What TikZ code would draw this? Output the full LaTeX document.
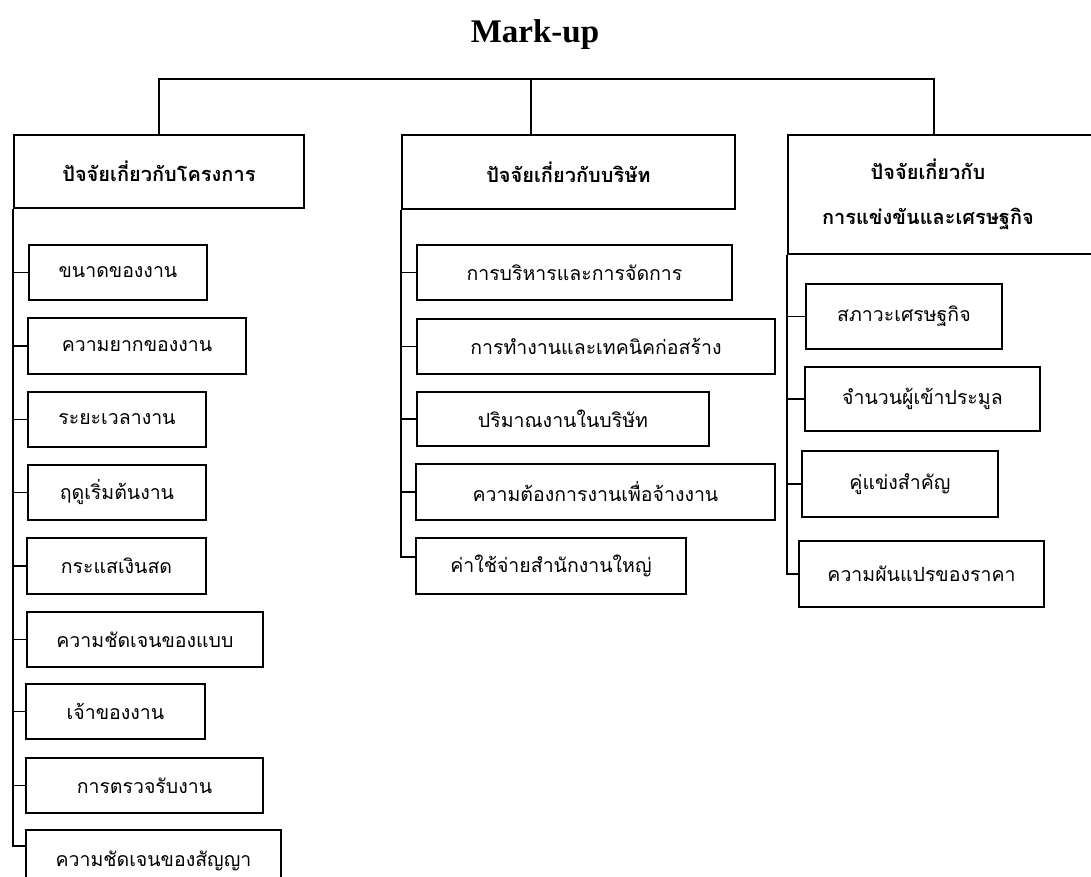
\documentclass[tikz,border=0pt]{standalone}
\usepackage{fontspec}
\newfontfamily\thaifont[Script=Thai]{Loma}
\newfontfamily\titlefont{Liberation Serif}
\usetikzlibrary{arrows, positioning, calc}

\begin{document}
\begin{tikzpicture}[x=1pt,y=-1pt,line width=1.9pt,
    head node/.style={rectangle,draw,anchor=north west,inner sep=0pt,align=center,
      font=\thaifont\bfseries\fontsize{20}{40}\selectfont},
    item node/.style={rectangle,draw,anchor=north west,inner sep=0pt,minimum height=55pt,
      font=\thaifont\fontsize{19.5}{22}\selectfont}]

  \useasboundingbox (0,0) rectangle (1091,877);
  \clip (0,0) rectangle (1091,877);

  \node (title) at (535,35) {\titlefont\bfseries\fontsize{33}{36}\selectfont Mark-up};

  % the three groups
  \node[head node,minimum width=290pt,minimum height=73pt] (proj) at (13,134) {ปัจจัยเกี่ยวกับโครงการ};
  \node[head node,minimum width=333pt,minimum height=74pt] (firm) at (401,134) {ปัจจัยเกี่ยวกับบริษัท};
  \node[head node,minimum width=320pt,minimum height=119pt,
    label={[xshift=-20pt,align=center,font=\thaifont\bfseries\fontsize{20}{45}\selectfont]center:ปัจจัยเกี่ยวกับ\\การแข่งขันและเศรษฐกิจ}] (comp) at (787,134) {};

  \coordinate (top) at (531,79);
  \coordinate (tr) at (934,79);
  \draw (proj.north) |- (top) -- (tr) -- (tr |- comp.north);
  \draw (top) -- (top |- firm.north);

  % project factors
  \node[item node,minimum width=178pt] (k1) at (28,244) {ขนาดของงาน};
  \node[item node,minimum width=218pt,minimum height=56pt] (k2) at (27,317) {ความยากของงาน};
  \node[item node,minimum width=178pt] (k3) at (27,391) {ระยะเวลางาน};
  \node[item node,minimum width=178pt] (k4) at (27,464) {ฤดูเริ่มต้นงาน};
  \node[item node,minimum width=179pt,minimum height=56pt] (k5) at (26,537) {กระแสเงินสด};
  \node[item node,minimum width=236pt] (k6) at (26,611) {ความชัดเจนของแบบ};
  \node[item node,minimum width=179pt] (k7) at (25,683) {เจ้าของงาน};
  \node[item node,minimum width=237pt] (k8) at (25,757) {การตรวจรับงาน};
  \node[item node,minimum width=255pt,minimum height=62pt] (k9) at (25,829) {ความชัดเจนของสัญญา};

  \draw (proj.south west) |- (k1.west);
  \draw (proj.south west) |- (k2.west);
  \draw (proj.south west) |- (k3.west);
  \draw (proj.south west) |- (k4.west);
  \draw (proj.south west) |- (k5.west);
  \draw (proj.south west) |- (k6.west);
  \draw (proj.south west) |- (k7.west);
  \draw (proj.south west) |- (k8.west);
  \draw (proj.south west) |- ([yshift=15pt]k9.west);

  % company factors
  \node[item node,minimum width=315pt] (b1) at (416,244) {การบริหารและการจัดการ};
  \node[item node,minimum width=358pt] (b2) at (416,318) {การทำงานและเทคนิคก่อสร้าง};
  \node[item node,minimum width=292pt,minimum height=54pt] (b3) at (416,391) {ปริมาณงานในบริษัท};
  \node[item node,minimum width=359pt,minimum height=56pt] (b4) at (415,463) {ความต้องการงานเพื่อจ้างงาน};
  \node[item node,minimum width=270pt,minimum height=56pt] (b5) at (415,537) {ค่าใช้จ่ายสำนักงานใหญ่};

  \draw (firm.south west) |- (b1.west);
  \draw (firm.south west) |- (b2.west);
  \draw (firm.south west) |- (b3.west);
  \draw (firm.south west) |- (b4.west);
  \draw (firm.south west) |- ([yshift=9pt]b5.west);

  % competition and economy
  \node[item node,minimum width=196pt,minimum height=65pt] (e1) at (805,283) {สภาวะเศรษฐกิจ};
  \node[item node,minimum width=235pt,minimum height=64pt] (e2) at (804,366) {จำนวนผู้เข้าประมูล};
  \node[item node,minimum width=196pt,minimum height=66pt] (e3) at (801,450) {คู่แข่งสำคัญ};
  \node[item node,minimum width=245pt,minimum height=66pt] (e4) at (798,540) {ความผันแปรของราคา};

  \draw (comp.south west) |- (e1.west);
  \draw (comp.south west) |- (e2.west);
  \draw (comp.south west) |- (e3.west);
  \draw (comp.south west) |- (e4.west);
\end{tikzpicture}
\end{document}
